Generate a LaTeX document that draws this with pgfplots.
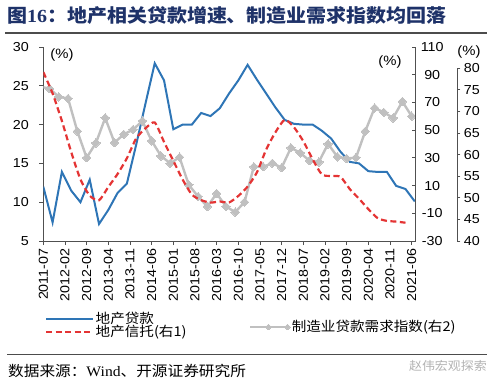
\documentclass[border=0pt]{standalone}
\usepackage{pgfplots}
\pgfplotsset{compat=1.18}
\usepackage{fontspec}
\setmainfont[FakeStretch=1.1]{Liberation Sans}
\newfontfamily\cjk[FakeStretch=1.08]{Noto Sans CJK SC}
\newfontfamily\serifb[FakeStretch=1.08]{Liberation Serif}
\definecolor{bl}{RGB}{46,117,182}
\definecolor{rd}{RGB}{228,52,52}
\definecolor{gr}{RGB}{192,192,192}
\definecolor{ttl}{RGB}{30,50,105}
\definecolor{axc}{RGB}{80,80,80}
\newcommand{\tickfont}{\fontsize{13}{13}\selectfont}
\pgfplotsset{/pgf/number format/assume math mode=true}

\pgfplotstableread{
m v
0 12.0
3 7.4
6 13.9
9 11.5
12 10.0
15 12.9
18 7.2
21 9.0
24 11.2
27 12.4
30 17.4
33 22.7
36 27.9
39 25.7
42 19.4
45 20.0
48 20.0
51 21.5
54 21.1
57 22.1
60 24.0
63 25.7
66 27.7
69 25.8
72 24.0
75 22.2
78 20.6
81 20.1
84 20.0
87 20.0
90 19.2
93 18.2
96 16.5
99 15.2
102 15.0
105 14.0
108 13.9
111 13.9
114 12.1
117 11.7
120 10.1
}\loans

\pgfplotstableread{
m v
0 91.9
3 76.5
6 56.7
9 34.3
12 14.5
15 2.7
18 -0.6
21 9.0
24 18.4
27 29.7
30 44.0
33 51.3
36 55.5
39 41.5
42 27.9
45 14.4
48 3.5
51 -0.5
54 -2.3
57 -1.5
60 -2.2
63 2.5
66 9.3
69 19.5
72 36.0
75 48.5
78 57.5
81 52.0
84 42.0
87 29.0
90 18.0
93 16.9
96 16.3
99 7.5
102 0.5
105 -7.0
108 -13.5
111 -15.5
114 -16.0
117 -16.8
}\trust

\pgfplotstableread{
m v
0 75.6
2 75.3
5 73.4
8 73.0
11 65.4
14 59.3
17 62.7
20 68.5
23 62.8
26 64.7
29 65.8
32 67.8
35 63.2
38 59.7
41 58.0
44 59.4
47 53.0
50 50.3
53 48.0
56 51.0
59 48.0
62 46.7
65 49.0
68 57.2
71 57.2
74 58.0
77 57.0
80 61.6
83 60.4
86 58.6
89 58.3
92 62.5
95 59.5
98 59.1
101 59.3
104 65.4
107 70.8
110 69.8
113 68.5
116 72.3
119 68.9
}\mfg

\begin{document}
\begin{tikzpicture}[x=1pt,y=1pt]
\path[use as bounding box] (0,0) rectangle (500,383);

% title and rules
\node[anchor=west, text=ttl, inner sep=0pt] at (7,367)
  {\cjk\bfseries\fontsize{18.5}{18.5}\selectfont 图{\serifb\bfseries 16}：地产相关贷款增速、制造业需求指数均回落};
\draw[black!70, line width=1.2pt] (5,350) -- (487,350);
\draw[black!70, line width=0.8pt] (7,29) -- (487,29);
\node[anchor=west, inner sep=0pt] at (8,12)
  {\cjk\fontsize{14.5}{14.5}\selectfont 数据来源：{\serifb Wind}、开源证券研究所};
\node[anchor=east, inner sep=0pt, text=black!30] at (487,17)
  {\cjk\fontsize{12}{12}\selectfont 赵伟宏观探索};

% unit labels
\node[inner sep=0pt] at (62,328) {\fontsize{13.5}{13.5}\selectfont (\%)};
\node[inner sep=0pt] at (390,321) {\fontsize{13.5}{13.5}\selectfont (\%)};
\node[inner sep=0pt] at (469,331) {\fontsize{13.5}{13.5}\selectfont (\%)};

% axis 1: loans (left)
\begin{axis}[
  at={(43.3pt,142pt)}, anchor=south west, scale only axis,
  width=372.4pt, height=194pt,
  xmin=0, xmax=120.3, ymin=5, ymax=30,
  axis x line*=bottom, axis y line*=left,
  xtick={0,7,...,119},
  xticklabels={2011-07,2012-02,2012-09,2013-04,2013-11,2014-06,2015-01,2015-08,2016-03,2016-10,2017-05,2017-12,2018-07,2019-02,2019-09,2020-04,2020-11,2021-06},
  ytick={5,10,...,30},
  tick align=outside, major tick length=4pt,
  xticklabel style={rotate=90, anchor=east, font=\tickfont},
  yticklabel style={font=\tickfont, xshift=-7pt},
  axis line style={axc, line width=0.8pt},
  every tick/.style={axc, line width=0.8pt},
  legend style={at={(0.004,-0.36)}, anchor=north west, draw=none, fill=none,
    font=\cjk\fontsize{13.5}{13.5}\selectfont, row sep=-3pt, inner sep=0pt,
    nodes={inner sep=1.5pt}},
  legend cell align=left,
  legend image code/.code={\draw[#1] (0pt,0pt) -- (47pt,0pt);},
]
\addplot[bl, line width=2pt, mark=none] table[x=m,y=v] {\loans};
\addlegendentry{地产贷款}
\addlegendimage{rd, line width=2.2pt, dash pattern=on 6pt off 3.5pt}
\addlegendentry{地产信托(右1)}
\end{axis}

% axis 3: manufacturing index (right 2)
\begin{axis}[
  at={(43.3pt,142pt)}, anchor=south west, scale only axis,
  width=414pt, height=172.7pt,
  xmin=0, xmax=133.74, ymin=40, ymax=80,
  axis x line=none, axis y line*=right,
  ytick={40,45,...,80},
  tick align=outside, major tick length=3pt,
  yticklabel style={font=\tickfont},
  axis line style={axc, line width=0.8pt},
  every tick/.style={axc, line width=0.8pt},
  legend style={at={(0.497,-0.498)}, anchor=west, draw=none, fill=none,
    font=\cjk\fontsize{13.5}{13.5}\selectfont, inner sep=0pt, nodes={inner sep=1.5pt}},
  legend image code/.code={\draw[#1, mark size=2pt] plot coordinates {(0pt,0pt) (18pt,0pt) (37pt,0pt)};},
]
\addplot[gr, line width=2.4pt, mark=square*, mark size=3pt, mark indices={2,...,41},
  mark options={rotate=45, fill=gr, draw=gr, line width=0pt}] table[x=m,y=v] {\mfg};
\addlegendentry{制造业贷款需求指数(右2)}
\end{axis}

% axis 2: trust (right 1)
\begin{axis}[
  at={(43.3pt,142pt)}, anchor=south west, scale only axis,
  width=372.4pt, height=194pt,
  xmin=0, xmax=120.3, ymin=-30, ymax=110,
  axis x line=none, axis y line*=right,
  ytick={-30,-10,...,110},
  tick align=inside, major tick length=4pt,
  yticklabel style={font=\tickfont, text width=26pt, align=center},
  axis line style={axc, line width=0.8pt},
  every tick/.style={axc, line width=0.8pt},
]
\addplot[rd, line width=2.2pt, dash pattern=on 6pt off 3.5pt, smooth, tension=0.4, mark=none] table[x=m,y=v] {\trust};
\end{axis}
\end{tikzpicture}
\end{document}
